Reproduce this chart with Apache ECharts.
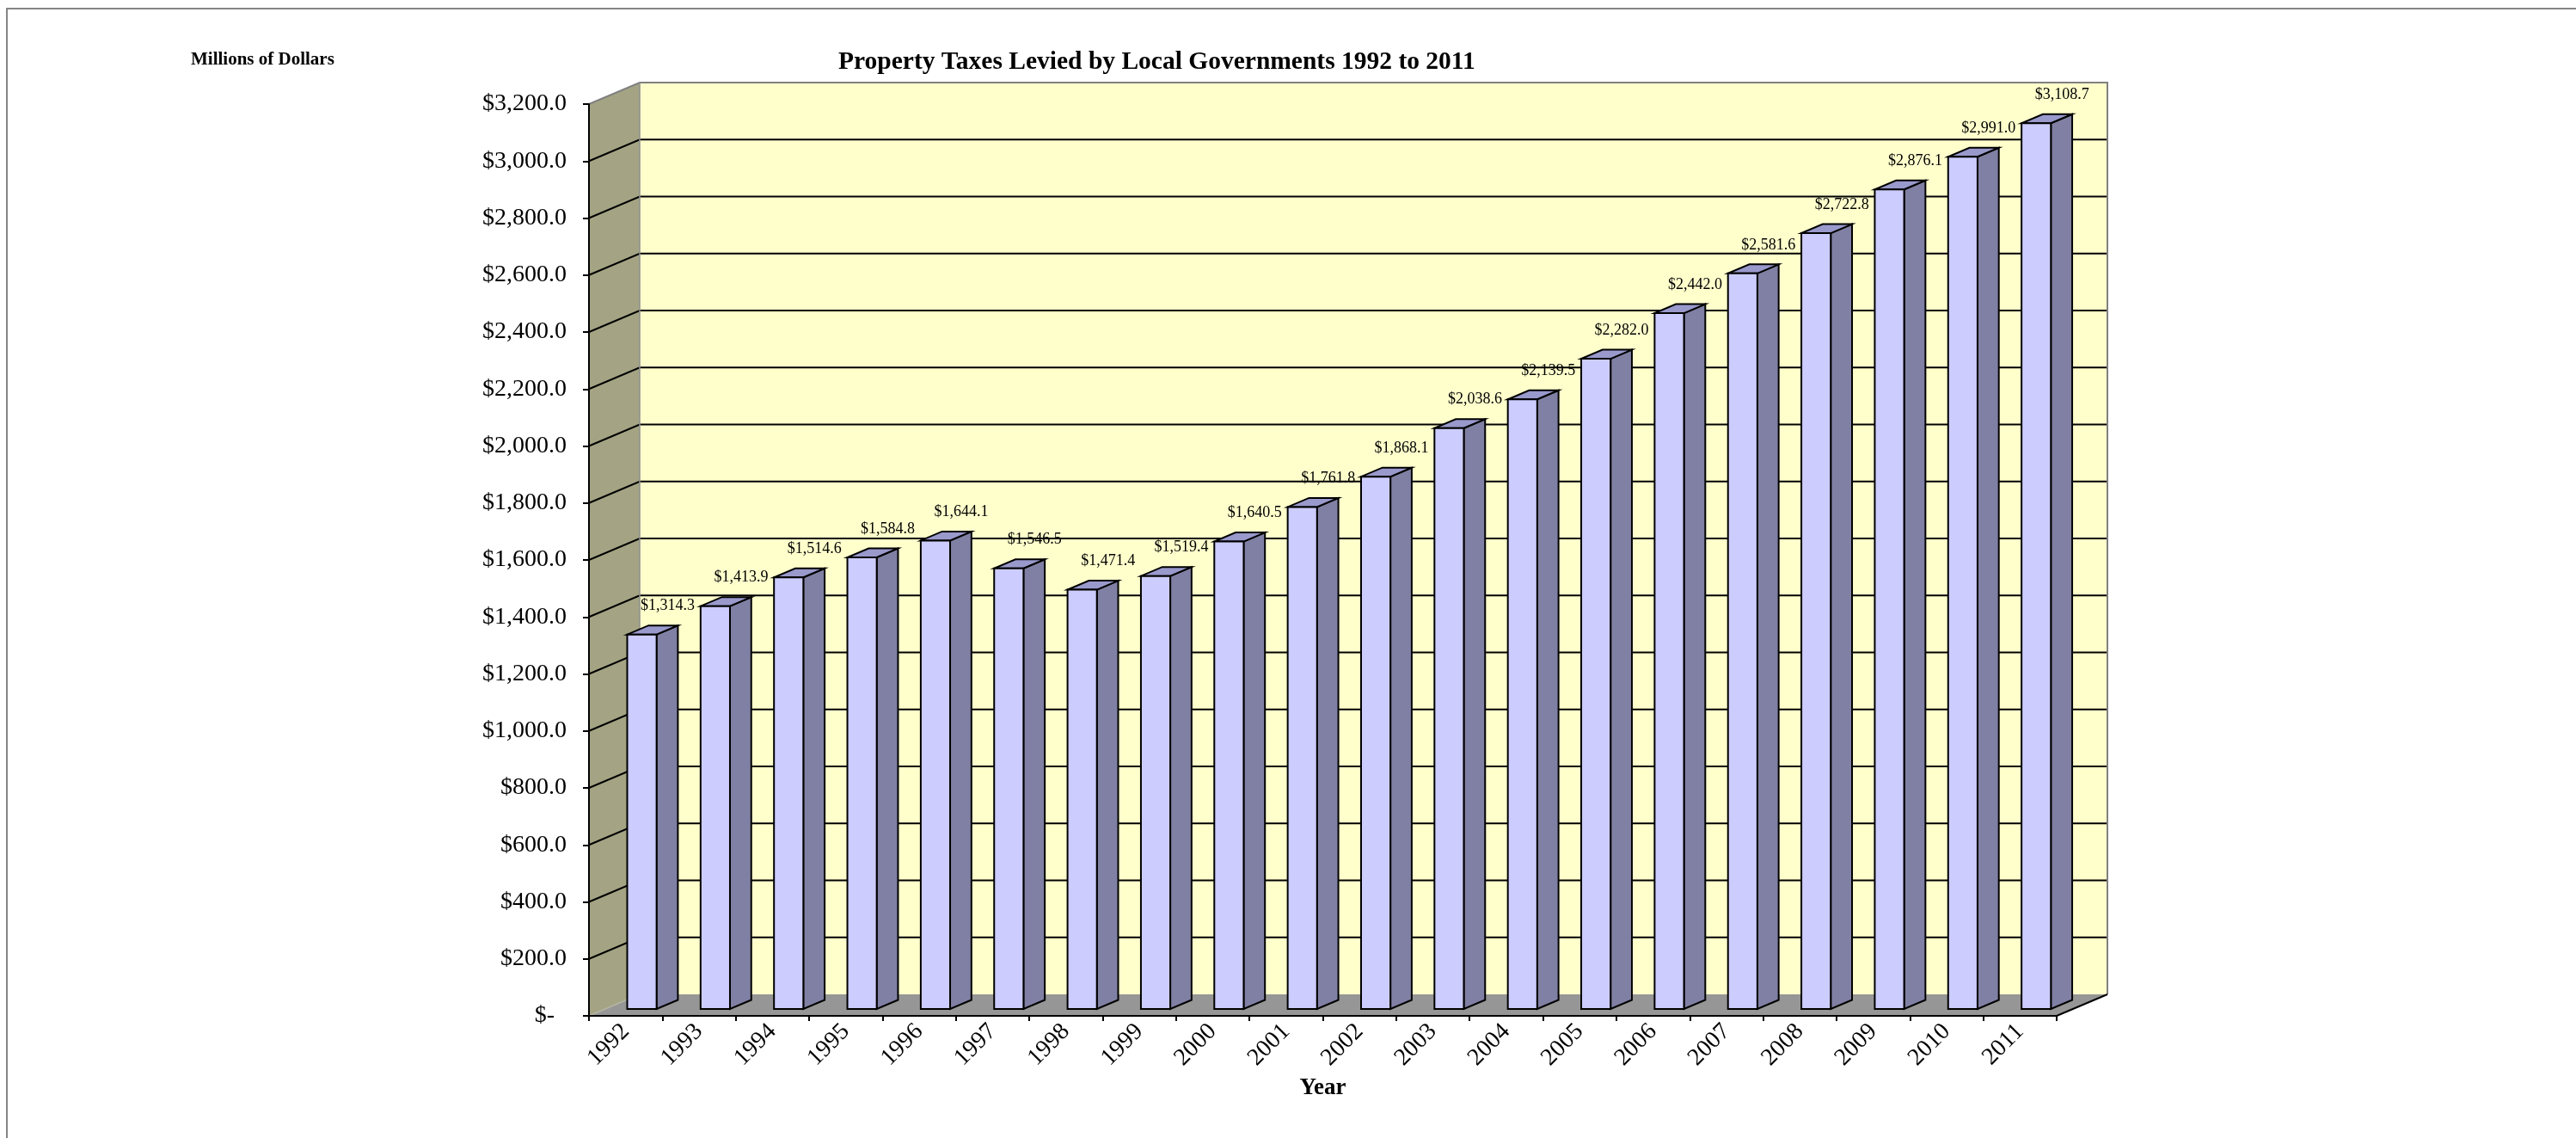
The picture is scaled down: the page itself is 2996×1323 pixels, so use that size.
<!DOCTYPE html>
<html>
<head>
<meta charset="utf-8">
<script src="https://cdn.jsdelivr.net/npm/echarts@6/dist/echarts.min.js"></script>
<style>
html,body{margin:0;padding:0;background:#ffffff;}
#chart{width:2996px;height:1323px;}
</style>
</head>
<body>
<div id="chart"></div>
<script>
// ---------------- data ----------------
const years = ['1992','1993','1994','1995','1996','1997','1998','1999','2000','2001',
               '2002','2003','2004','2005','2006','2007','2008','2009','2010','2011'];
const taxes = [1314.3,1413.9,1514.6,1584.8,1644.1,1546.5,1471.4,1519.4,1640.5,1761.8,
               1868.1,2038.6,2139.5,2282.0,2442.0,2581.6,2722.8,2876.1,2991.0,3108.7];
const yMin = 0, yMax = 3200, yStep = 200;
const titleText = 'Property Taxes Levied by Local Governments 1992 to 2011';
const unitText = 'Millions of Dollars';
const xAxisName = 'Year';

// ---------------- look ----------------
const FONT = "'Liberation Serif','Times New Roman',serif";
const DX = 59, DY = -25;          // depth of the 3-D box
const F_FRONT = 0.32;             // bar front face depth fraction
const F_DEPTH = 0.42;             // bar depth fraction
const BAR_W = 0.40;               // bar width as fraction of band
const LABEL_DX = 30, LABEL_DY = -33;

function money(v) {
  return '$' + v.toLocaleString('en-US', {minimumFractionDigits: 1, maximumFractionDigits: 1});
}

function sceneRender(params, api) {
  const band = api.size([1, 0])[0];
  const p0 = api.coord([0, yMin]);
  const pTop = api.coord([0, yMax]);
  const left = p0[0] - band / 2;
  const right = api.coord([years.length - 1, yMin])[0] + band / 2;
  const bottom = p0[1], top = pTop[1];
  const ch = [];
  ch.push({type: 'polygon', shape: {points: [[left, top], [left + DX, top + DY], [left + DX, bottom + DY], [left, bottom]]},
           style: {fill: '#A4A484'}});
  ch.push({type: 'rect', shape: {x: left + DX, y: top + DY, width: right - left, height: bottom - top},
           style: {fill: '#FFFFCC'}});
  ch.push({type: 'polygon', shape: {points: [[left, bottom], [right, bottom], [right + DX, bottom + DY], [left + DX, bottom + DY]]},
           style: {fill: '#969696'}});
  for (let v = yMin + yStep; v < yMax; v += yStep) {
    const y = api.coord([0, v])[1];
    ch.push({type: 'polyline', shape: {points: [[left, y], [left + DX, y + DY], [right + DX, y + DY]]},
             style: {stroke: '#000', lineWidth: 2, fill: null}});
  }
  ch.push({type: 'polyline', shape: {points: [[left, top], [left + DX, top + DY], [right + DX, top + DY], [right + DX, bottom + DY]]},
           style: {stroke: '#808080', lineWidth: 2, fill: null}});
  ch.push({type: 'line', shape: {x1: left + DX, y1: top + DY, x2: left + DX, y2: bottom + DY},
           style: {stroke: '#8f8f8f', lineWidth: 1.5}});
  ch.push({type: 'line', shape: {x1: left, y1: bottom, x2: left + DX, y2: bottom + DY},
           style: {stroke: '#b4b4a4', lineWidth: 1.5}});
  ch.push({type: 'line', shape: {x1: right, y1: bottom, x2: right + DX, y2: bottom + DY},
           style: {stroke: '#000', lineWidth: 2}});
  return {type: 'group', children: ch};
}

function barGeom(api) {
  const idx = api.value(0), val = api.value(1);
  const band = api.size([1, 0])[0];
  const c = api.coord([idx, val]);
  const b = api.coord([idx, yMin]);
  const w = band * BAR_W;
  const fx = F_FRONT * DX, fy = F_FRONT * DY;
  const bx = F_DEPTH * DX, by = F_DEPTH * DY;
  const x0 = c[0] + fx - w / 2, x1 = x0 + w;
  const yt = c[1] + fy, yb = b[1] + fy;
  return {x0, x1, yt, yb, bx, by, cx: c[0] + fx, val};
}

function barRender(params, api) {
  const g = barGeom(api);
  const st = {stroke: '#000', lineWidth: 2, lineJoin: 'miter'};
  return {type: 'group', children: [
    {type: 'polygon', shape: {points: [[g.x1, g.yt], [g.x1 + g.bx, g.yt + g.by], [g.x1 + g.bx, g.yb + g.by], [g.x1, g.yb]]},
     style: Object.assign({fill: '#8080A4'}, st)},
    {type: 'polygon', shape: {points: [[g.x0, g.yt], [g.x1, g.yt], [g.x1 + g.bx, g.yt + g.by], [g.x0 + g.bx, g.yt + g.by]]},
     style: Object.assign({fill: '#9999CC'}, st)},
    {type: 'rect', shape: {x: g.x0, y: g.yt, width: g.x1 - g.x0, height: g.yb - g.yt},
     style: Object.assign({fill: '#CCCCFF'}, st)}
  ]};
}

function labelRender(params, api) {
  const g = barGeom(api);
  return {type: 'text', x: g.cx + LABEL_DX, y: g.yt + LABEL_DY,
          style: {text: money(g.val), font: '18px ' + FONT, fill: '#000',
                  textAlign: 'center', textVerticalAlign: 'middle', align: 'center', verticalAlign: 'middle'}};
}

const chart = echarts.init(document.getElementById('chart'), null, {renderer: 'canvas'});
chart.setOption({
  backgroundColor: '#ffffff',
  animation: false,
  title: [
    {text: titleText, left: 975, top: 57, padding: 0,
     textStyle: {fontFamily: FONT, fontSize: 29.5, fontWeight: 'bold', color: '#000'}},
    {text: unitText, left: 222, top: 59, padding: 0,
     textStyle: {fontFamily: FONT, fontSize: 21, fontWeight: 'bold', color: '#000'}}
  ],
  graphic: [
    {type: 'polyline', shape: {points: [[8, 1323], [8, 10], [2996, 10]]}, style: {stroke: '#858585', lineWidth: 2, fill: null}, z: 100}
  ],
  grid: {left: 685, right: 604, top: 121, bottom: 142, containLabel: false},
  xAxis: {
    type: 'category', data: years, z: 10,
    axisLine: {show: true, lineStyle: {color: '#000', width: 2}},
    axisTick: {show: true, length: 6, lineStyle: {color: '#000', width: 2}},
    axisLabel: {rotate: 45, margin: 14, fontFamily: FONT, fontSize: 28, color: '#000'},
    splitLine: {show: false},
    name: xAxisName, nameLocation: 'middle', nameGap: 66,
    nameTextStyle: {fontFamily: FONT, fontSize: 27, fontWeight: 'bold', color: '#000'}
  },
  yAxis: {
    type: 'value', min: yMin, max: yMax, interval: yStep, z: 10,
    axisLine: {show: true, lineStyle: {color: '#000', width: 2}},
    axisTick: {show: true, length: 7, lineStyle: {color: '#000', width: 2}},
    splitLine: {show: false},
    axisLabel: {
      margin: 26, fontFamily: FONT, fontSize: 28, color: '#000',
      formatter: v => v === 0 ? '{z|$-}' : money(v),
      rich: {z: {fontFamily: FONT, fontSize: 28, color: '#000', padding: [0, 14, 0, 0]}}
    }
  },
  series: [
    {type: 'custom', name: 'scene', renderItem: sceneRender, data: [[0, 0]], z: 1, silent: true,
     encode: {x: 0, y: 1}},
    {type: 'custom', name: 'Property taxes', renderItem: barRender, z: 3,
     data: taxes.map((v, i) => [i, v]), encode: {x: 0, y: 1}},
    {type: 'custom', name: 'labels', renderItem: labelRender, z: 5,
     data: taxes.map((v, i) => [i, v]), encode: {x: 0, y: 1}}
  ]
});
</script>
</body>
</html>
